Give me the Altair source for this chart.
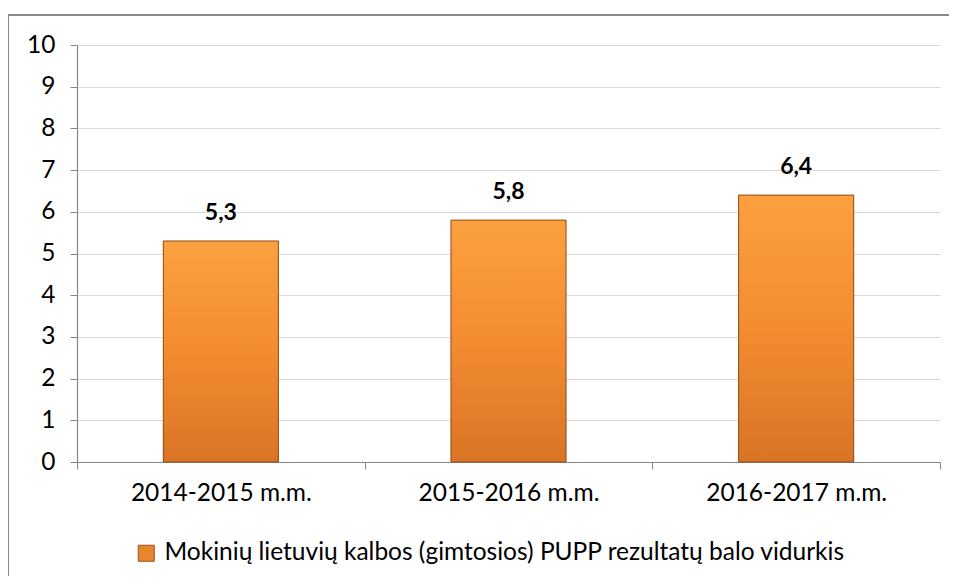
import altair as alt
import pandas as pd

categories = ["2014-2015 m.m.", "2015-2016 m.m.", "2016-2017 m.m."]
values = [5.3, 5.8, 6.4]
labels = ["5,3", "5,8", "6,4"]
series_name = "Mokinių lietuvių kalbos (gimtosios) PUPP rezultatų balo vidurkis"

df = pd.DataFrame({"cat": categories, "val": values, "lab": labels, "series": [series_name] * 3})

W, H = 863, 417
FONT = "Lato"
FS = 24.5

x_enc = alt.X("cat:N", sort=categories, title=None,
              scale=alt.Scale(paddingInner=0, paddingOuter=0),
              axis=alt.Axis(tickBand="extent", labelAngle=0, labelFontSize=FS, labelColor="#000000",
                            labelFont=FONT, labelPadding=12, labelLimit=400, tickSize=7, tickColor="#868686",
                            domainColor="#868686", domainWidth=1.2, grid=False))
y_enc = alt.Y("val:Q", title=None,
              scale=alt.Scale(domain=[0, 10], nice=False),
              axis=alt.Axis(values=list(range(0, 11)), labelFontSize=FS, labelColor="#000000",
                            labelFont=FONT, labelPadding=15, tickSize=7, tickColor="#868686",
                            domainColor="#868686", domainWidth=1.2, gridColor="#d9d9d9", gridWidth=1.2))

base = alt.Chart(df)

legend_bars = base.mark_bar(width={"band": 0.4}).encode(
    x=x_enc, y=y_enc,
    color=alt.Color("series:N", title=None,
                    scale=alt.Scale(range=["#e8862e"]),
                    legend=alt.Legend(orient="none", legendX=57, legendY=496, symbolType="square",
                                      symbolSize=256, symbolStrokeColor="#9c5218", symbolStrokeWidth=1,
                                      labelFontSize=FS, labelFont=FONT, labelColor="#000000",
                                      labelOffset=6, labelLimit=900, padding=0)),
)

grad = alt.Gradient(gradient="linear", x1=0, y1=0, x2=0, y2=1,
                    stops=[alt.GradientStop(offset=0, color="#fca040"),
                           alt.GradientStop(offset=0.5, color="#f38c30"),
                           alt.GradientStop(offset=1, color="#d97426")])

grad_bars = base.mark_bar(width={"band": 0.4}, fill=grad, stroke="#8f4c16", strokeWidth=1).encode(
    x=alt.X("cat:N", sort=categories), y="val:Q")

text = base.mark_text(dy=-28, fontSize=23, fontWeight="bold", font=FONT, color="#000000").encode(
    x=alt.X("cat:N", sort=categories), y="val:Q", text="lab:N")

border_top = base.mark_rule(stroke="#888888", strokeWidth=1.5).encode(
    x=alt.value(-69), x2=alt.value(W + 30), y=alt.value(-30))
border_left = base.mark_rule(stroke="#888888", strokeWidth=1.5).encode(
    x=alt.value(-69), y=alt.value(-30), y2=alt.value(H + 200))

chart = alt.layer(border_top, border_left, legend_bars, grad_bars, text).properties(
    width=W, height=H,
    autosize=alt.AutoSizeParams(type="none"),
    padding={"left": 69, "top": 37, "right": 9, "bottom": 114},
    background="white",
).configure_view(stroke=None)

chart.save("out.html", embed_options={"renderer": "svg", "actions": False})
